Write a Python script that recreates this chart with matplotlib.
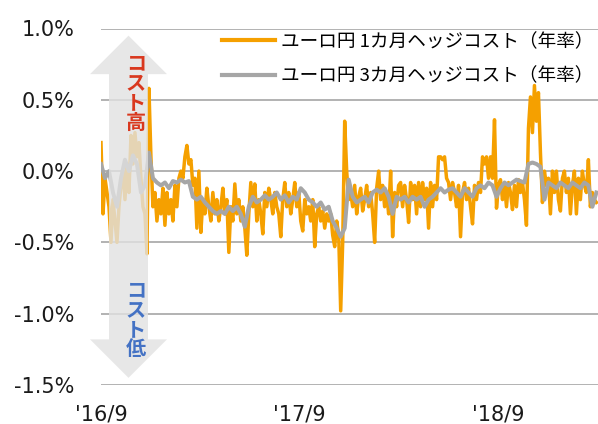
import numpy as np
import pandas as pd
import matplotlib
matplotlib.use("Agg")
import matplotlib.pyplot as plt
from matplotlib.patches import Polygon

# ---- data (annualised hedge cost, %) ----
start_date = "2016-09-01"
end_date = "2019-03-01"

hedge_1m = [
    0.20, -0.30, -0.05, -0.15, -0.25,
    -0.50, -0.20, -0.35, -0.50, -0.25,
    -0.10, 0.00, -0.20, 0.05, -0.15,
    0.25, 0.05, 0.27, 0.10, 0.20,
    -0.05, -0.25, -0.30, -0.58, 0.58,
    0.10, -0.25, -0.15, -0.35, -0.20,
    -0.30, -0.12, -0.38, -0.15, -0.30,
    -0.20, -0.35, -0.10, -0.25, -0.05,
    0.00, -0.05, 0.10, 0.18, 0.05,
    0.08, -0.10, -0.05, -0.40, 0.00,
    -0.43, -0.20, -0.30, -0.12, -0.25,
    -0.35, -0.15, -0.30, -0.20, -0.35,
    -0.25, -0.12, -0.30, -0.20, -0.57,
    -0.25, -0.35, -0.09, -0.30, -0.20,
    -0.35, -0.25, -0.40, -0.59, -0.30,
    -0.08, -0.25, -0.09, -0.35, -0.20,
    -0.30, -0.44, -0.15, -0.25, -0.12,
    -0.20, -0.30, -0.15, -0.25, -0.30,
    -0.46, -0.20, -0.08, -0.25, -0.15,
    -0.30, -0.20, -0.08, -0.25, -0.15,
    -0.35, -0.42, -0.20, -0.30, -0.25,
    -0.35, -0.20, -0.53, -0.30, -0.25,
    -0.35, -0.28, -0.40, -0.30, -0.35,
    -0.30, -0.45, -0.53, -0.35, -0.45,
    -0.98, -0.50, 0.35, 0.00, -0.20,
    -0.15, -0.25, -0.10, -0.30, -0.18,
    -0.12, -0.28, -0.20, -0.10, -0.25,
    -0.15, -0.30, -0.50, -0.12, 0.00,
    -0.20, -0.10, -0.25, -0.15, -0.30,
    0.00, -0.46, -0.15, -0.25, -0.10,
    -0.08, -0.25, -0.10, -0.20, -0.36,
    -0.08, -0.20, -0.10, -0.30, -0.08,
    -0.25, -0.08, -0.20, -0.12, -0.40,
    -0.08, -0.25, -0.10, -0.20, 0.10,
    0.10, 0.08, 0.10, -0.05, -0.08,
    -0.20, -0.08, -0.15, -0.25, -0.10,
    -0.46, -0.15, -0.08, -0.20, -0.12,
    -0.25, -0.37, -0.10, -0.20, -0.08,
    -0.15, 0.10, 0.05, 0.10, -0.05,
    0.10, -0.05, 0.36, -0.26, -0.10,
    -0.06, -0.20, -0.10, -0.25, -0.08,
    -0.15, -0.27, -0.10, -0.25, -0.06,
    -0.15, -0.08, -0.20, -0.38, 0.30,
    0.52, 0.27, 0.60, 0.35, 0.55,
    0.13, -0.22, 0.00, -0.10, -0.05,
    -0.30, 0.00, -0.15, 0.00, -0.20,
    -0.28, -0.05, 0.00, -0.15, -0.05,
    -0.30, -0.10, 0.00, -0.30, -0.05,
    -0.20, 0.00, -0.10, -0.15, 0.08,
    -0.25, -0.15, -0.20, -0.22,
]

hedge_3m = [
    0.05, -0.05, 0.00, -0.15, -0.25,
    -0.05, 0.08, 0.00, 0.11, 0.05,
    -0.15, -0.10, 0.13, -0.05, -0.08,
    -0.10, -0.08, -0.12, -0.07, -0.08,
    -0.06, -0.08, -0.07, -0.18, -0.20,
    -0.18, -0.22, -0.25, -0.28, -0.30,
    -0.28, -0.30, -0.25, -0.28, -0.25,
    -0.30, -0.39, -0.25, -0.18, -0.22,
    -0.20, -0.17, -0.20, -0.18, -0.15,
    -0.20, -0.17, -0.22, -0.18, -0.20,
    -0.12, -0.15, -0.20, -0.22, -0.25,
    -0.22, -0.27, -0.25, -0.35, -0.40,
    -0.46, -0.40, -0.06, -0.18, -0.22,
    -0.20, -0.18, -0.22, -0.15, -0.13,
    -0.15, -0.12, -0.18, -0.30, -0.18,
    -0.20, -0.18, -0.22, -0.18, -0.20,
    -0.18, -0.25, -0.20, -0.18, -0.15,
    -0.12, -0.15, -0.13, -0.12, -0.15,
    -0.18, -0.12, -0.15, -0.18, -0.12,
    -0.10, -0.12, -0.08, -0.10, -0.18,
    -0.12, -0.08, -0.10, -0.08, -0.06,
    -0.07, -0.08, 0.05, 0.06, 0.05,
    0.03, -0.20, -0.08, -0.10, -0.12,
    -0.08, -0.10, -0.12, -0.08, -0.10,
    -0.12, -0.08, -0.10, -0.25, -0.15,
]

label_1m = "ユーロ円 1カ月ヘッジコスト（年率）"
label_3m = "ユーロ円 3カ月ヘッジコスト（年率）"
y_ticks = [-1.5, -1.0, -0.5, 0.0, 0.5, 1.0]
x_tick_dates = ["2016-09-01", "2017-09-01", "2018-09-01"]
x_tick_labels = ["'16/9", "'17/9", "'18/9"]
arrow_up_text = "コスト高"
arrow_down_text = "コスト低"

# ---- figure ----
W, H = 598, 424
fig = plt.figure(figsize=(W / 100, H / 100), dpi=100)
ax_l, ax_r, ax_t, ax_b = 101, 598, 28.5, 385
ax = fig.add_axes([ax_l / W, 1 - ax_b / H, (ax_r - ax_l) / W, (ax_b - ax_t) / H])

dates_1m = pd.date_range(start_date, end_date, periods=len(hedge_1m))
dates_3m = pd.date_range(start_date, end_date, periods=len(hedge_3m))

orange = "#F5A000"
gray = "#A6A6A6"
ax.plot(dates_1m, hedge_1m, color=orange, lw=2.5, label=label_1m, zorder=3)
ax.plot(dates_3m, hedge_3m, color=gray, lw=2.9, label=label_3m, zorder=4)

ax.set_ylim(-1.5, 1.0)
x0 = pd.Timestamp(start_date)
ax.set_xlim(x0, x0 + pd.Timedelta(days=914))
ax.set_yticks(y_ticks)
ax.set_yticklabels([f"{v:.1f}%" for v in y_ticks], fontsize=15, family="DejaVu Sans")
ax.set_xticks(pd.to_datetime(x_tick_dates))
ax.set_xticklabels(x_tick_labels, fontsize=15, family="DejaVu Sans")
ax.tick_params(axis="both", length=0, colors="#1a1a1a")
ax.tick_params(axis="y", pad=19)
ax.tick_params(axis="x", pad=14)
for s in ax.spines.values():
    s.set_visible(False)
ax.grid(axis="y", color="#A6A6A6", lw=1.2, zorder=1)
ax.set_axisbelow(True)

# ---- double arrow annotation (axes-x fraction, data-y) ----
trans = ax.get_yaxis_transform()
sx0, sx1 = (109 - ax_l) / (ax_r - ax_l), (148 - ax_l) / (ax_r - ax_l)
hx0, hx1 = (90 - ax_l) / (ax_r - ax_l), (167 - ax_l) / (ax_r - ax_l)
cx = (sx0 + sx1) / 2
top_tip, top_base = 0.95, 0.68
bot_base, bot_tip = -1.18, -1.45
verts = [(cx, top_tip), (hx1, top_base), (sx1, top_base), (sx1, bot_base),
         (hx1, bot_base), (cx, bot_tip), (hx0, bot_base), (sx0, bot_base),
         (sx0, top_base), (hx0, top_base)]
arrow = Polygon(verts, closed=True, transform=trans, facecolor="#E2E2E2",
                edgecolor="none", alpha=0.8, zorder=5, clip_on=False)
ax.add_patch(arrow)

tx = (136 - ax_l) / (ax_r - ax_l)
jp = ["Noto Sans CJK JP", "DejaVu Sans"]
ax.text(tx, 0.55, "\n".join(arrow_up_text), transform=trans, ha="center", va="center",
        fontsize=14.5, fontweight="bold", color="#D9381E", family=jp, linespacing=0.92,
        zorder=6)
ax.text(tx, -1.04, "\n".join(arrow_down_text), transform=trans, ha="center", va="center",
        fontsize=14.5, fontweight="bold", color="#4472C4", family=jp, linespacing=0.92,
        zorder=6)

leg = ax.legend(loc="upper left", bbox_to_anchor=((222 - ax_l) / (ax_r - ax_l), 0.988),
                frameon=False, prop={"family": jp, "size": 13.4}, handlelength=2.85,
                handletextpad=0.3, labelspacing=0.9, borderpad=0, borderaxespad=0)
for h in leg.legend_handles:
    h.set_linewidth(3)

fig.savefig("out.png", dpi=100)
